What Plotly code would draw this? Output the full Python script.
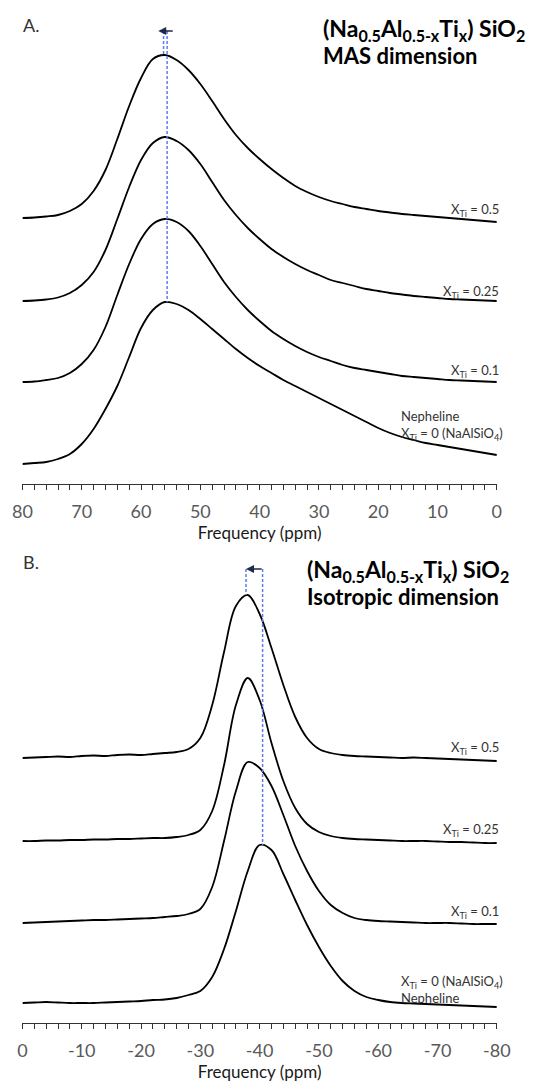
import plotly.graph_objects as go

# ---------------- data ----------------
# Panel A: MAS dimension, ppm 80 -> 0 (step 2); intensities (arb. units) above each baseline
mas_ppm = [80, 78, 76, 74, 72, 70, 68, 66, 64, 62, 60, 58, 56, 54, 52, 50, 48, 46, 44, 42, 40,
           38, 36, 34, 32, 30, 28, 26, 24, 22, 20, 18, 16, 14, 12, 10, 8, 6, 4, 2, 0]
mas_x05 = [0, 0.5, 1.5, 3, 7, 14, 27, 48, 79, 112, 140, 159, 163, 158, 148, 134, 117, 99, 83, 70, 59,
           49, 40, 32, 26, 21, 17, 14, 11, 9, 7, 5.5, 4, 3, 2, 1, 0, -1, -2, -3, -4]
mas_x025 = [0, 0.5, 1.5, 3.5, 8, 16, 29, 51, 82, 114, 141, 158, 164, 160, 151, 137, 119, 101, 86, 73, 62,
            52, 44, 37, 31, 26, 21, 18, 15, 12, 10, 8, 6.5, 5, 4, 3, 2, 1.5, 1, 0.5, 0]
mas_x01 = [0, 0.5, 2, 4, 9, 18, 32, 55, 87, 118, 143, 158, 163, 160, 151, 136, 118, 100, 85, 72, 61,
           51, 43, 36, 30, 25, 21, 17, 14, 12, 10, 8, 6, 5, 4, 3, 2, 1.5, 1, 0.5, 0]
mas_x0 = [0, 1, 2, 5, 10, 20, 35, 55, 78, 107, 136, 154, 162, 160, 154, 145, 135, 125, 115, 106, 98,
          91, 84, 78, 72, 66, 60, 54, 48, 42, 36, 31, 27, 24, 21, 19, 17, 15, 13, 11, 9]
mas_offsets = [266, 183, 102, 20]          # stacking offsets for X_Ti = 0.5, 0.25, 0.1, 0
mas_peak_ppm = [56.2, 55.6]                 # peak of X_Ti = 0.5 and of nepheline
mas_arrow_ppm = [54.4, 57.1]                # arrow tail -> head

# Panel B: isotropic dimension, ppm 0 -> -80 (step 2)
iso_ppm = [0, -2, -4, -6, -8, -10, -12, -14, -16, -18, -20, -22, -24, -26, -28, -30, -32, -34, -36, -38,
           -40, -42, -44, -46, -48, -50, -52, -54, -56, -58, -60, -62, -64, -66, -68, -70, -72, -74,
           -76, -78, -80]
iso_x05 = [0, 0.5, 1, 1.5, 1, 2, 2.5, 2, 3, 3.5, 3, 4, 5, 6, 9, 20, 53, 106, 152, 163,
           144, 110, 73, 41, 20, 9, 5, 3, 2, 1.5, 1, 0.5, 0, 0.5, 0, -0.5, -1, -1.5, -2, -2.5, -3]
iso_x025 = [0, 0, 0.5, 0.5, 1, 1, 1.5, 1.5, 2, 2, 2.5, 3, 3, 4, 6, 11, 30, 76, 136, 163,
            141, 98, 60, 33, 17, 9, 5, 3, 2, 1.5, 1, 0.5, 0, 0, 0, -0.5, -1, -1, -1.5, -2, -2]
iso_x01 = [0, 0.5, 1, 1.5, 2, 2.5, 3, 3, 3.5, 4, 4.5, 5, 6, 7, 9, 14, 36, 82, 132, 161,
           155, 137, 108, 77, 52, 32, 18, 10, 5, 3, 2, 1.5, 1, 0.5, 0, 0, 0, -0.5, -1, -1, -1]
iso_x0 = [0, 0.5, 1, 0.5, 0, 0, 0, 0.5, 1, 1.5, 2, 3, 3.5, 5, 8, 12, 26, 54, 92, 132,
          158, 153, 129, 103, 78, 56, 37, 22, 12, 6, 3, 1, 0, -0.5, -1, -1.5, -2, -2.5, -3, -3.5, -4]
iso_offsets = [265, 182, 100, 20]
iso_peak_ppm = [-37.7, -40.5]
iso_arrow_ppm = [-40.6, -37.7]

mas_tickvals = [80, 70, 60, 50, 40, 30, 20, 10, 0]
mas_ticktext = ["80", "70", "60", "50", "40", "30", "20", "10", "0"]
iso_tickvals = [0, -10, -20, -30, -40, -50, -60, -70, -80]
iso_ticktext = ["0", "-10", "-20", "-30", "-40", "-50", "-60", "-70", "-80"]

labels = ["X<sub>Ti</sub> = 0.5", "X<sub>Ti</sub> = 0.25", "X<sub>Ti</sub> = 0.1"]
neph_label = "X<sub>Ti</sub> = 0 (NaAlSiO<sub>4</sub>)"
formula = "(Na<sub>0.5</sub>Al<sub>0.5-x</sub>Ti<sub>x</sub>) SiO<sub>2</sub>"

# ---------------- figure ----------------
W, H = 551, 1083
def px(x): return x / W
def py(y): return 1 - y / H

FONT = "Lato, 'Open Sans', sans-serif"
fig = go.Figure()

line_style = dict(color="black", width=1.8, shape="spline", smoothing=1.0)
for vals, off in zip([mas_x05, mas_x025, mas_x01, mas_x0], mas_offsets):
    fig.add_trace(go.Scatter(x=mas_ppm, y=[v + off for v in vals], mode="lines",
                             line=line_style, xaxis="x", yaxis="y",
                             hoverinfo="skip", showlegend=False))
for vals, off in zip([iso_x05, iso_x025, iso_x01, iso_x0], iso_offsets):
    fig.add_trace(go.Scatter(x=iso_ppm, y=[v + off for v in vals], mode="lines",
                             line=line_style, xaxis="x2", yaxis="y2",
                             hoverinfo="skip", showlegend=False))

dash_style = dict(color="#5b7cf5", width=1.5, dash="3px,2px")
A_TOP, B_TOP = 453, 454
mas_peak_heights = [max(mas_x05) + mas_offsets[0], max(mas_x0) + mas_offsets[3]]
iso_peak_heights = [max(iso_x05) + iso_offsets[0], max(iso_x0) + iso_offsets[3]]
for p, h in zip(mas_peak_ppm, mas_peak_heights):
    fig.add_trace(go.Scatter(x=[p, p], y=[A_TOP, h], mode="lines", line=dash_style,
                             xaxis="x", yaxis="y", hoverinfo="skip", showlegend=False))
for p, h in zip(iso_peak_ppm, iso_peak_heights):
    fig.add_trace(go.Scatter(x=[p, p], y=[B_TOP, h], mode="lines", line=dash_style,
                             xaxis="x2", yaxis="y2", hoverinfo="skip", showlegend=False))

arrow_col = "#1f2a4a"
ann = [
    dict(x=mas_arrow_ppm[1], y=A_TOP, ax=mas_arrow_ppm[0], ay=A_TOP, xref="x", yref="y",
         axref="x", ayref="y", text="", showarrow=True, arrowhead=2, arrowsize=1,
         arrowwidth=1.6, arrowcolor=arrow_col),
    dict(x=iso_arrow_ppm[1], y=B_TOP, ax=iso_arrow_ppm[0], ay=B_TOP, xref="x2", yref="y2",
         axref="x2", ayref="y2", text="", showarrow=True, arrowhead=2, arrowsize=1,
         arrowwidth=1.6, arrowcolor=arrow_col),
]

def txt(text, x, y, size, anchor="left", color="#333333", align="left"):
    return dict(text=text, x=px(x), y=py(y), xref="paper", yref="paper", xanchor=anchor,
                yanchor="middle", showarrow=False, align=align,
                font=dict(family=FONT, size=size, color=color))

def title_block(second):
    return ("<span style='font-size:23px'><b>" + formula + "</b></span><br>"
            "<span style='font-size:22px'><b>" + second + "</b></span>")

ann += [
    txt("A.", 11, 25, 18),
    txt(title_block("MAS dimension"), 325, 42, 21, color="black"),
    txt("B.", 11, 562, 18),
    txt(title_block("Isotropic dimension"), 308, 582, 21, color="black"),
]
for lab, yA, yB in zip(labels, [210, 292, 371], [748, 830, 912]):
    ann.append(txt(lab, 513, yA, 13, anchor="right"))
    ann.append(txt(lab, 513, yB, 13, anchor="right"))
ann += [
    txt("Nepheline<br>" + neph_label, 407, 425, 13),
    txt(neph_label + "<br>Nepheline", 407, 989, 13),
]

def xaxis_cfg(vals, text, rng, anchor):
    return dict(domain=[px(13), px(509)], range=rng, anchor=anchor,
                showline=True, linecolor="#333333", linewidth=1,
                ticks="outside", ticklen=5, tickwidth=1, tickcolor="#333333",
                tickmode="array", tickvals=vals, ticktext=text,
                minor=dict(tickmode="linear", tick0=0, dtick=2, ticks="outside", ticklen=5,
                           tickwidth=1, tickcolor="#333333", showgrid=False),
                showgrid=False, zeroline=False,
                tickfont=dict(family=FONT, size=18, color="#595959"),
                ticklabelstandoff=6,
                title=dict(text="Frequency (ppm)", standoff=2,
                           font=dict(family=FONT, size=17, color="#1a1a1a")))

fig.update_layout(
    width=W, height=H, margin=dict(l=0, r=0, t=0, b=0),
    paper_bgcolor="white", plot_bgcolor="white", showlegend=False,
    xaxis=xaxis_cfg(mas_tickvals, mas_ticktext, [80, 0], "y"),
    yaxis=dict(domain=[py(484), py(20)], range=[0, 464], visible=False),
    xaxis2=xaxis_cfg(iso_tickvals, iso_ticktext, [0, -80], "y2"),
    yaxis2=dict(domain=[py(1023), py(563)], range=[0, 460], visible=False),
    annotations=ann,
)

fig.write_html("out.html")
